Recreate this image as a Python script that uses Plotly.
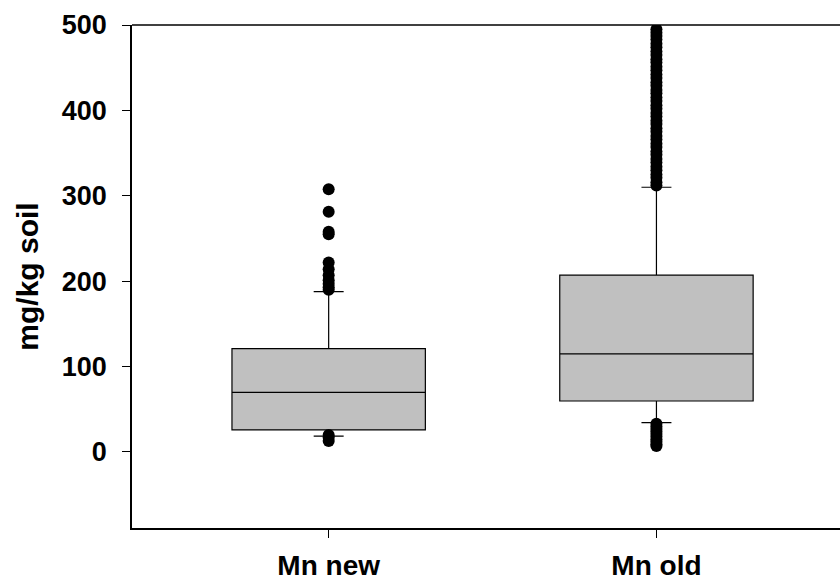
import plotly.graph_objects as go

categories = ["Mn new", "Mn old"]
q1 = [25.8, 59.7]
median = [69.9, 114.8]
q3 = [121.0, 207.0]
lower_whisker = [18.7, 34.3]
upper_whisker = [187.7, 310.0]

outliers_new = [307.6, 281.4, 258.0, 255.0, 222.0, 214.0, 207.0, 201.0, 197.0, 193.0, 190.0,
                 20.0, 17.0, 13.0]
outliers_old = [312, 316, 321, 325, 330, 334, 339, 343, 348, 352, 357, 361, 366, 370, 375,
                379, 384, 388, 393, 397, 402, 406, 411, 415, 420, 424, 429, 433, 438, 442,
                447, 451, 456, 460, 465, 469, 474, 478, 483, 487, 491, 495,
                33, 30, 27, 24, 21, 18, 15, 12, 9, 7]

y_ticks = [0, 100, 200, 300, 400, 500]

fig = go.Figure()
fig.add_trace(go.Box(
    x=categories, q1=q1, median=median, q3=q3,
    lowerfence=lower_whisker, upperfence=upper_whisker,
    fillcolor="#c0c0c0", line=dict(color="black", width=1.2),
    width=0.59, whiskerwidth=0.155, boxpoints=False, showlegend=False,
    hoverinfo="skip"))
fig.add_trace(go.Scatter(
    x=[categories[0]] * len(outliers_new) + [categories[1]] * len(outliers_old),
    y=outliers_new + outliers_old, mode="markers",
    marker=dict(color="black", size=12), showlegend=False))

font = "Liberation Sans, Arial, sans-serif"
fig.update_layout(
    width=840, height=581,
    margin=dict(l=132, r=0, t=25, b=53, autoexpand=False),
    paper_bgcolor="white", plot_bgcolor="white",
    font=dict(family=font, color="black"),
    xaxis=dict(type="category", range=[-0.6, 1.56], showline=True, linecolor="black",
               linewidth=1.5, ticks="outside", ticklen=8, tickcolor="black",
               tickfont=dict(size=28, family=font, weight="bold"),
               showgrid=False, zeroline=False, ticklabelstandoff=4, automargin=False),
    yaxis=dict(range=[-89, 500], showline=True, linecolor="black", linewidth=1.5,
               ticks="outside", ticklen=8, tickcolor="black", tickvals=y_ticks,
               tickfont=dict(size=27, family=font, weight="bold"),
               showgrid=False, zeroline=False, ticklabelstandoff=10, automargin=False,
               title=dict(text="mg/kg soil", font=dict(size=30, family=font, weight="bold"),
                          standoff=14)),
    shapes=[dict(type="line", xref="paper", yref="paper", x0=0, x1=1, y0=1, y1=1,
                 line=dict(color="black", width=1.5))],
)
fig.write_html("out.html", config={"displayModeBar": False},
               post_script="document.body.style.margin='0';")
